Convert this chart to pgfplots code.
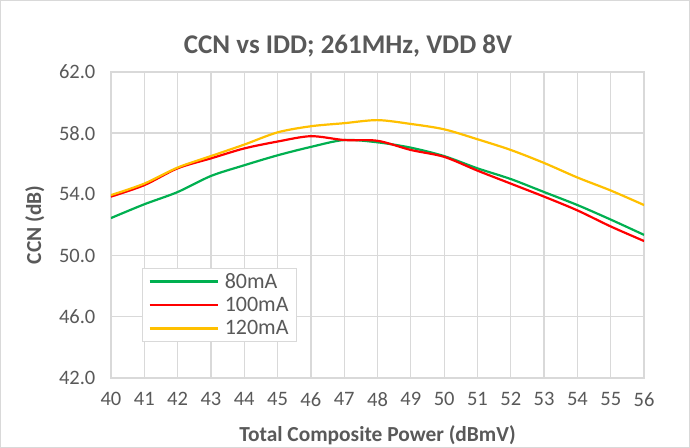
\documentclass[border=0pt]{standalone}
\usepackage{pgfplots}
\pgfplotsset{compat=1.18}
\usepackage{fontspec}
\setmainfont{Carlito}
\definecolor{cgreen}{HTML}{00B050}
\definecolor{cred}{HTML}{FF0000}
\definecolor{cyel}{HTML}{FFC000}
\definecolor{cgrid}{HTML}{D9D9D9}
\definecolor{ctext}{HTML}{595959}
\begin{document}
\begin{tikzpicture}[x=1pt,y=1pt]
\draw[cgrid, line width=0.8pt, fill=white] (0.5,0.5) rectangle (689.5,447.5);
\node[font=\fontsize{27}{31}\selectfont\bfseries, text=ctext] at (348,402) {CCN vs IDD; 261MHz, VDD 8V};
\begin{axis}[
  at={(111pt,70pt)}, anchor=south west,
  scale only axis, width=533pt, height=306pt,
  xmin=40, xmax=56, ymin=42, ymax=62,
  xtick={40,41,...,56}, ytick={42,46,...,62},
  yticklabel style={/pgf/number format/fixed, /pgf/number format/fixed zerofill, /pgf/number format/precision=1},
  /pgf/number format/assume math mode=true,
  tick label style={font=\fontsize{20.5}{23}\selectfont, text=ctext},
  xticklabel style={yshift=-11pt},
  yticklabel style={xshift=-12pt},
  grid=major, major grid style={cgrid, line width=1.3pt},
  axis line style={cgrid, line width=1.3pt},
  tick style={draw=none},
  xlabel={Total Composite Power (dBmV)},
  ylabel={CCN (dB)},
  label style={font=\fontsize{21.4}{25}\selectfont\bfseries, text=ctext},
  xlabel style={at={(axis description cs:0.5,0)}, anchor=center, yshift=-57pt},
  ylabel style={at={(axis description cs:0,0.5)}, anchor=center, yshift=76pt},
  legend style={at={(31pt,36pt)}, anchor=south west, draw=cgrid, line width=1.2pt,
    font=\fontsize{22}{25}\selectfont, text=ctext, row sep=3.5pt,
    inner xsep=6pt, inner ysep=3pt},
  legend cell align=left,
  legend image code/.code={\path (0pt,0pt) -- (68pt,0pt); \draw[#1, line width=2.2pt] (15pt,0pt) -- (63pt,0pt);},
  every axis plot/.append style={line width=2.2pt, smooth, no markers},
]
\addplot[cgreen] coordinates {(40,52.45) (41,53.35) (42,54.15) (43,55.2) (44,55.9) (45,56.55) (46,57.1) (47,57.55) (48,57.4) (49,57.05) (50,56.5) (51,55.7) (52,55.0) (53,54.15) (54,53.3) (55,52.35) (56,51.35)};
\addlegendentry{\hspace{4pt}80mA}
\addplot[cred] coordinates {(40,53.85) (41,54.6) (42,55.7) (43,56.35) (44,57.0) (45,57.45) (46,57.8) (47,57.55) (48,57.5) (49,56.9) (50,56.45) (51,55.55) (52,54.7) (53,53.85) (54,52.95) (55,51.9) (56,50.95)};
\addlegendentry{\hspace{4pt}100mA}
\addplot[cyel] coordinates {(40,53.95) (41,54.7) (42,55.75) (43,56.5) (44,57.25) (45,58.05) (46,58.45) (47,58.65) (48,58.85) (49,58.6) (50,58.25) (51,57.6) (52,56.9) (53,56.05) (54,55.1) (55,54.25) (56,53.3)};
\addlegendentry{\hspace{4pt}120mA}
\end{axis}
\end{tikzpicture}
\end{document}
